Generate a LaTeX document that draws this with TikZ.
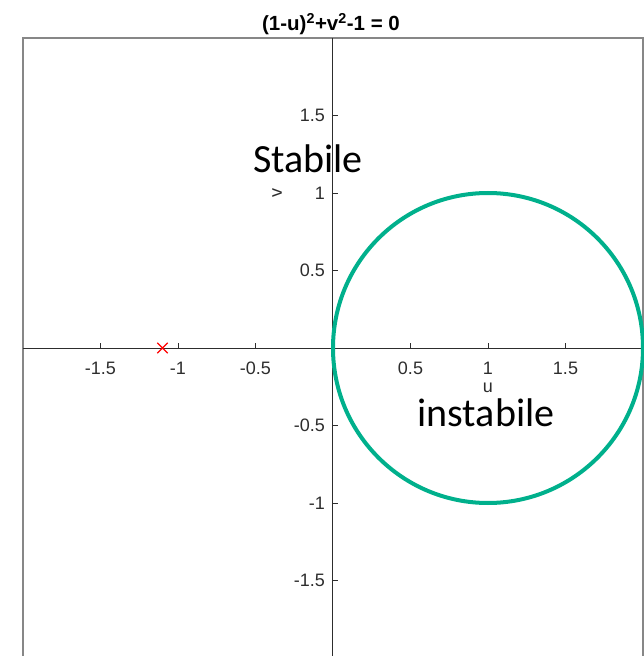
\documentclass[tikz,border=0pt]{standalone}
\usepackage{fontspec}
\setmainfont{Liberation Sans}
\newfontfamily\calibri{Carlito}
\usetikzlibrary{shapes.misc}
\definecolor{axisgray}{RGB}{45,45,45}
\definecolor{framegray}{RGB}{135,135,135}
\definecolor{circgreen}{RGB}{0,176,140}

\begin{document}
\begin{tikzpicture}[x=155pt,y=155pt,
    ticklabel/.style={font=\fontsize{18}{18}\selectfont, text=axisgray, inner sep=0pt},
    region/.style={font=\calibri\fontsize{40}{40}\selectfont, inner sep=0pt, anchor=base}]
        \useasboundingbox (-333pt,-308pt) rectangle (311pt,348pt);

        \draw[framegray, line width=2pt] (-2,-2) rectangle (2,2);

        \coordinate (west) at (-2,0);
        \coordinate (east) at (2,0);
        \coordinate (north) at (0,2);
        \coordinate (south) at (0,-2);
        \draw[axisgray, line width=1pt] (west) -- (east);
        \draw[axisgray, line width=1pt] (north) -- (south);

        \foreach \t in {-1.5,-1,-0.5,0.5,1,1.5} {
            \draw[axisgray, line width=0.8pt] (\t,0) -- ++(0,5pt);
            \draw[axisgray, line width=0.8pt] (0,\t) -- ++(5pt,0);
            \node[ticklabel] (xt\t) at ([yshift=-20pt]\t,0) {\t};
            \node[ticklabel, anchor=east] (yt\t) at ([xshift=-8pt]0,\t) {\t};
        }

        \node[ticklabel] (ulabel) at ([yshift=-40pt]1,0) {u};
        \node[ticklabel, rotate=90] (vlabel) at ([xshift=-56pt]0,1) {v};

        \draw[circgreen, line width=4pt] (1,0) circle (1);

        \node[draw=red, cross out, minimum size=9pt, inner sep=0pt, line width=1.4pt] (pole) at (-1.1,0) {};

        \node[font=\bfseries\fontsize{20.5}{20.5}\selectfont, anchor=base, inner sep=0pt] (title) at (-2pt,317pt)
            {(1-u)\textsuperscript{2}+v\textsuperscript{2}-1 = 0};

        \node[region] (stable) at (-25pt,175pt) {Stabile};
        \node[region] (unstable) at (153pt,-78pt) {instabile};
\end{tikzpicture}
\end{document}
